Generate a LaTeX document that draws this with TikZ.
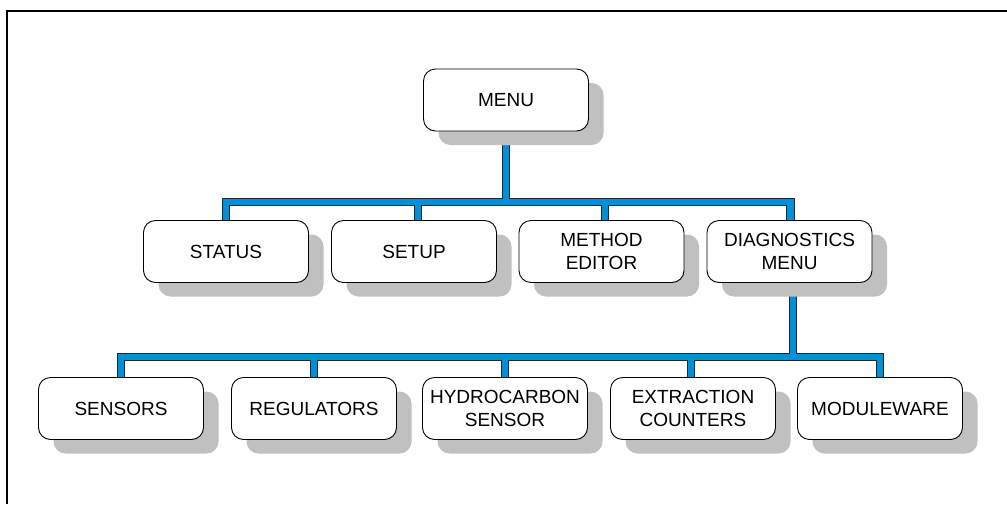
\documentclass[tikz,border=0pt]{standalone}
\usepackage{fontspec}
\setmainfont{Liberation Sans}
\usetikzlibrary{shadows}
\definecolor{barblue}{RGB}{0,144,218}
\definecolor{shadowgray}{RGB}{192,192,192}
\definecolor{baredge}{RGB}{30,40,50}
\pgfdeclarelayer{background}
\pgfsetlayers{background,main}
\tikzset{
  menubox/.style={draw=black, line width=0.9pt, fill=white, rounded corners=12pt,
    minimum width=165pt, minimum height=62pt, inner sep=2pt, align=center,
    font=\fontsize{19}{23}\selectfont,
    drop shadow={shadow xshift=15pt, shadow yshift=-14pt, fill=shadowgray, opacity=1}},
  busedge/.style={line width=8.6pt, draw=baredge, line cap=rect},
  busfill/.style={line width=6.6pt, draw=barblue, line cap=rect},
  frameline/.style={line width=2.2pt, draw=black}
}
\newcommand\allconnectors[1]{%
  \draw[#1] (menu.south) -- (menu.south |- bus1);
  \draw[#1] (status.north |- bus1) -- ([xshift=1pt]diag.north |- bus1);
  \draw[#1] (status.north) -- (status.north |- bus1);
  \draw[#1] ([xshift=4pt]setup.north) -- ([xshift=4pt]setup.north |- bus1);
  \draw[#1] ([xshift=3.5pt]method.north) -- ([xshift=3.5pt]method.north |- bus1);
  \draw[#1] ([xshift=1pt]diag.north) -- ([xshift=1pt]diag.north |- bus1);
  \draw[#1] ([xshift=3.5pt]diag.south) -- ([xshift=3.5pt]diag.south |- bus2);
  \draw[#1] (sensors.north |- bus2) -- (module.north |- bus2);
  \draw[#1] (sensors.north) -- (sensors.north |- bus2);
  \draw[#1] (reg.north) -- (reg.north |- bus2);
  \draw[#1] (hydro.north) -- (hydro.north |- bus2);
  \draw[#1] ([xshift=-2pt]extr.north) -- ([xshift=-2pt]extr.north |- bus2);
  \draw[#1] (module.north) -- (module.north |- bus2);
}
\begin{document}
\begin{tikzpicture}[x=1pt, y=-1pt]
\useasboundingbox (0,0) rectangle (1007,504);
\draw[frameline] (7,504) -- (7,11) -- (1007,11);

\node[menubox] (menu) at (506,100) {MENU};

\node[menubox] (status) at (226,251.5) {STATUS};
\node[menubox] (setup) at (414,251.5) {SETUP};
\node[menubox] (method) at (601.5,251.5) {METHOD\\EDITOR};
\node[menubox] (diag) at (789.5,251.5) {DIAGNOSTICS\\MENU};

\node[menubox] (sensors) at (121,408.5) {SENSORS};
\node[menubox] (reg) at (314,408.5) {REGULATORS};
\node[menubox] (hydro) at (505,408.5) {HYDROCARBON\\SENSOR};
\node[menubox] (extr) at (693,408.5) {EXTRACTION\\COUNTERS};
\node[menubox] (module) at (880,408.5) {MODULEWARE};

\coordinate (bus1) at (506,202);
\coordinate (bus2) at (793,357);

\begin{pgfonlayer}{background}
  \allconnectors{busedge}
  \allconnectors{busfill}
\end{pgfonlayer}
\end{tikzpicture}
\end{document}
